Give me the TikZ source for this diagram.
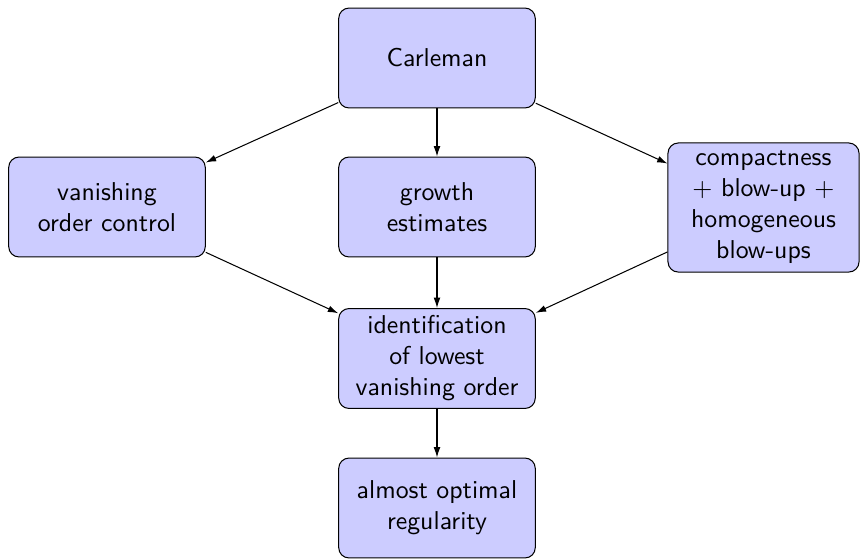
\documentclass[tikz,border=0pt]{standalone}
\usetikzlibrary{arrows.meta}
\begin{document}
\begin{tikzpicture}[x=0.3873pt,y=-0.3873pt,
  box/.style={draw, fill=blue!20, rounded corners=4pt, align=center, text width=2.5cm,
    minimum width=75.9pt, minimum height=38.7pt, inner sep=2.5pt, font=\sffamily},
  conn/.style={-{Latex[length=4pt,width=2.6pt]}, line width=0.4pt}]
\useasboundingbox (0,0) rectangle (861,558);
\node[box] (carl) at (437,58) {Carleman};
\node[box] (van) at (107,207) {vanishing\\order control};
\node[box] (grow) at (437,207) {growth\\estimates};
\node[box, text width=69pt, minimum width=74pt, minimum height=50pt, inner sep=2pt] (comp) at (763.5,207.5) {compactness\\$+$ blow-up $+$\\homogeneous\\blow-ups};
\node[box] (ident) at (437,358.5) {identification\\of lowest\\vanishing order};
\node[box] (opt) at (437,508) {almost optimal\\regularity};
\draw[conn] (carl) -- (van);
\draw[conn] (carl) -- (grow);
\draw[conn] (carl) -- (comp);
\draw[conn] (van) -- (ident);
\draw[conn] (grow) -- (ident);
\draw[conn] (comp) -- (ident);
\draw[conn] (ident) -- (opt);
\end{tikzpicture}
\end{document}
